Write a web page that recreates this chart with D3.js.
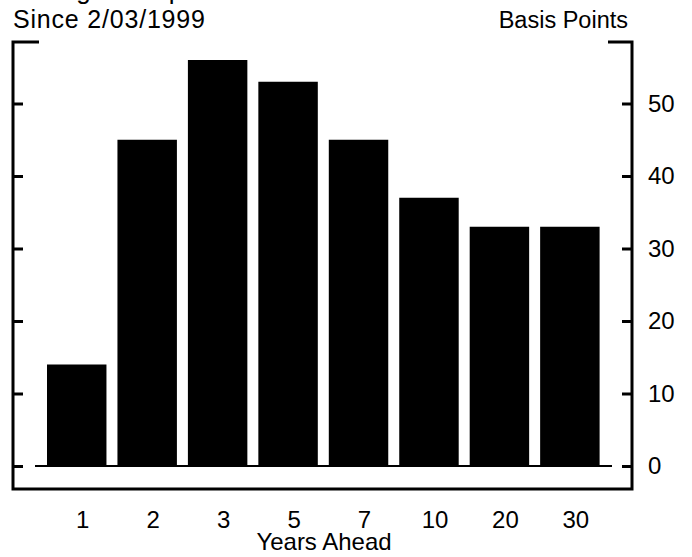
<!DOCTYPE html>
<html>
<head>
<meta charset="utf-8">
<script src="https://cdn.jsdelivr.net/npm/d3@7/dist/d3.min.js"></script>
<style>
  html, body { margin: 0; padding: 0; background: #fff; }
  svg { display: block; }
  text { font-family: "Liberation Sans", Arial, Helvetica, sans-serif; fill: #000; }
</style>
</head>
<body>
<svg id="chart" width="692" height="557"></svg>
<script>
const categories = ["1", "2", "3", "5", "7", "10", "20", "30"];
const values = [14, 45, 56, 53, 45, 37, 33, 33];
const yTicks = [0, 10, 20, 30, 40, 50];
const titleText = "Change in Implied Forward Rates";
const subtitleText = "Since 2/03/1999";
const unitText = "Basis Points";
const xTitle = "Years Ahead";

const svg = d3.select("#chart");

const frame = { left: 13, right: 632, top: 42, bottom: 489 };

const x = d3.scaleBand()
  .domain(categories)
  .range([47, 599.6])
  .paddingInner(0.156)
  .paddingOuter(0);

const y = d3.scaleLinear()
  .domain([0, 50])
  .range([466, 103.5]);

// Titles
svg.append("text").attr("x", 14).attr("y", -1.5)
  .attr("font-size", 26).text(titleText);
svg.append("text").attr("x", 13).attr("y", 28)
  .attr("font-size", 25).attr("letter-spacing", 0.8).text(subtitleText);
svg.append("text").attr("x", 628).attr("y", 28)
  .attr("font-size", 23.5).attr("text-anchor", "end").text(unitText);

// Bars
svg.append("g").selectAll("rect")
  .data(values)
  .join("rect")
  .attr("x", (d, i) => x(categories[i]))
  .attr("width", x.bandwidth())
  .attr("y", d => y(d))
  .attr("height", d => y(0) - y(d))
  .attr("fill", "#000");

// Zero line
svg.append("line")
  .attr("x1", 35).attr("x2", 612)
  .attr("y1", y(0)).attr("y2", y(0))
  .attr("stroke", "#000").attr("stroke-width", 2);

// Frame
svg.append("path")
  .attr("d", `M39,${frame.top} H${frame.left} V${frame.bottom} H${frame.right} V${frame.top} H608`)
  .attr("fill", "none").attr("stroke", "#000").attr("stroke-width", 3);

// Left ticks (no labels)
const leftAxis = svg.append("g")
  .attr("transform", `translate(${frame.left},0)`)
  .call(d3.axisLeft(y).tickValues(yTicks).tickSize(-10).tickFormat(""));
leftAxis.select(".domain").remove();
leftAxis.selectAll("line").attr("stroke-width", 3);

// Right axis
const rightAxis = svg.append("g")
  .attr("transform", `translate(${frame.right},0)`)
  .call(d3.axisRight(y).tickValues(yTicks).tickSize(-10).tickPadding(16));
rightAxis.select(".domain").remove();
rightAxis.selectAll("line").attr("stroke-width", 3);
rightAxis.selectAll("text").attr("font-size", 24)
  .attr("font-family", "'Liberation Sans', Arial, sans-serif");

// Bottom axis labels
const bottomAxis = svg.append("g")
  .attr("transform", `translate(6,${frame.bottom})`)
  .call(d3.axisBottom(x).tickSize(0).tickPadding(22));
bottomAxis.select(".domain").remove();
bottomAxis.selectAll("text").attr("font-size", 24)
  .attr("font-family", "'Liberation Sans', Arial, sans-serif");

svg.append("text")
  .attr("x", 324).attr("y", 550)
  .attr("font-size", 24).attr("text-anchor", "middle").text(xTitle);
</script>
</body>
</html>
